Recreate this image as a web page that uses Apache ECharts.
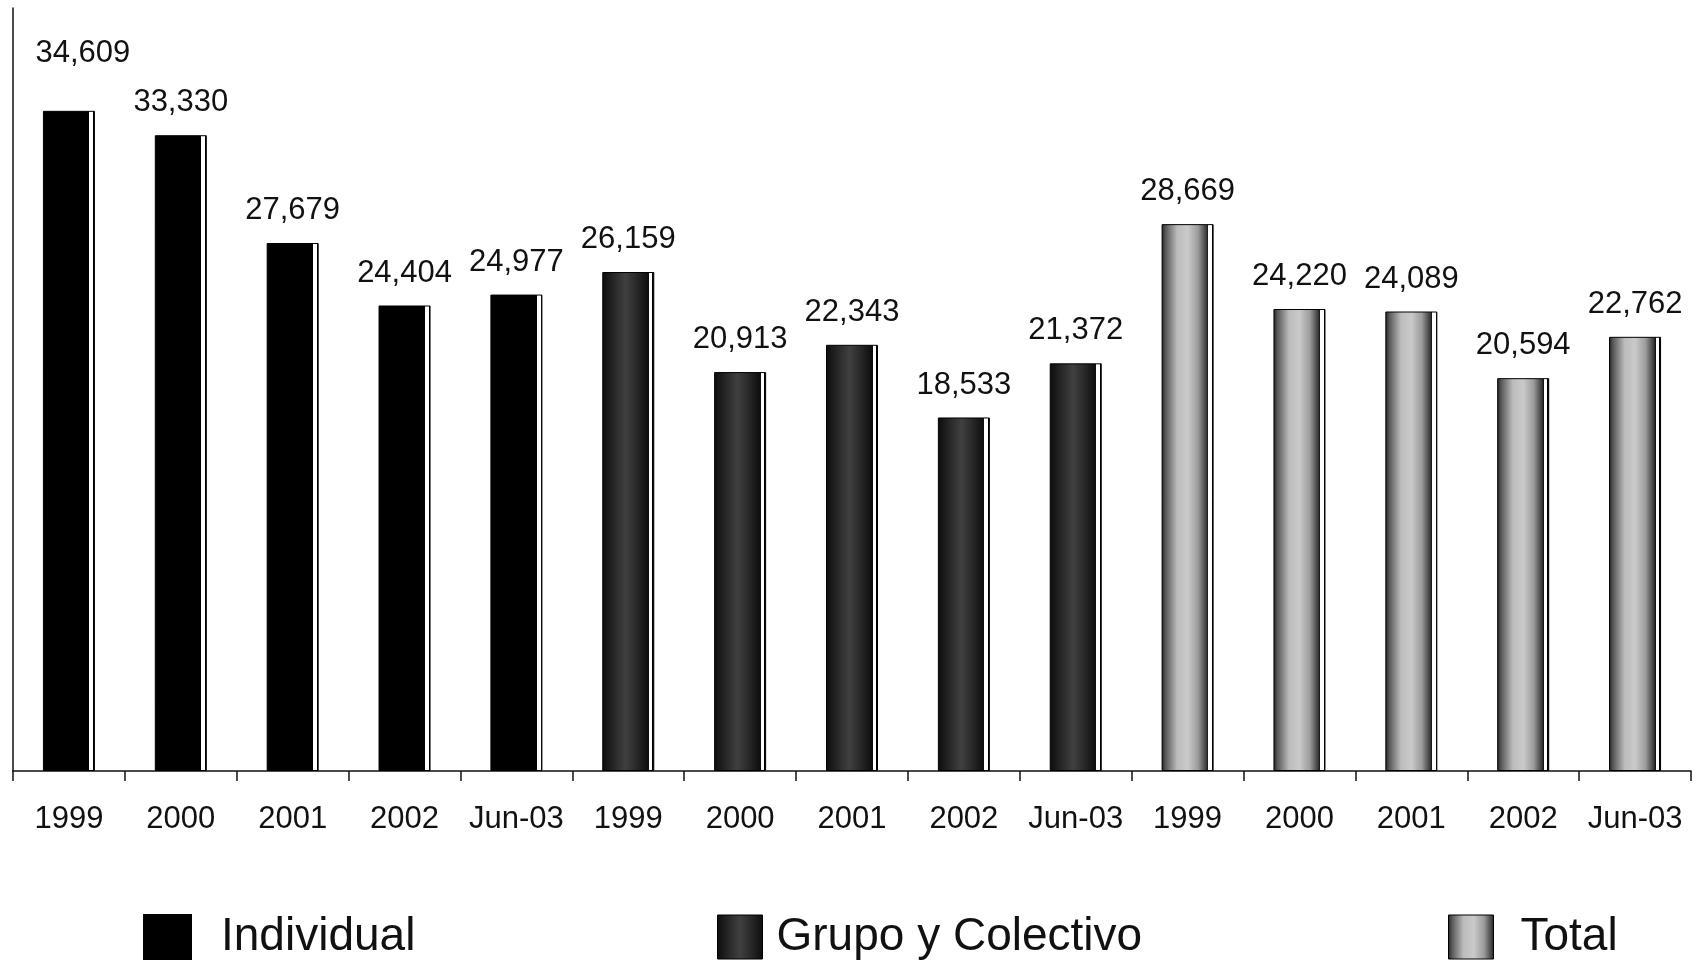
<!DOCTYPE html>
<html>
<head>
<meta charset="utf-8">
<title>Individual / Grupo y Colectivo / Total</title>
<script src="https://cdn.jsdelivr.net/npm/echarts@6/dist/echarts.min.js"></script>
<style>
  html, body { margin: 0; padding: 0; background: #fff; }
  #main { width: 1705px; height: 963px; }
</style>
</head>
<body>
<div id="main"></div>
<script type="text/javascript">
  // datos
  var periods = ['1999', '2000', '2001', '2002', 'Jun-03'];
  var categories = periods.concat(periods, periods);
  var individual = [34609, 33330, 27679, 24404, 24977];
  var grupo      = [26159, 20913, 22343, 18533, 21372];
  var total      = [28669, 24220, 24089, 20594, 22762];

  var font = '"Liberation Sans", Arial, sans-serif';

  // pone los 5 valores de un grupo en su bloque de categorias
  function block(values, pos) {
    var out = [];
    for (var i = 0; i < categories.length; i++) out.push('-');
    values.forEach(function (v, i) { out[pos * 5 + i] = v; });
    return out;
  }

  function grad(stops) {
    return new echarts.graphic.LinearGradient(0, 0, 1, 0, stops);
  }
  // cara frontal + canto blanco a la derecha
  function withEdge(stops) {
    return grad(stops.concat([
      { offset: 0.895, color: '#000' },
      { offset: 0.895, color: '#fff' },
      { offset: 0.965, color: '#fff' },
      { offset: 0.965, color: '#000' },
      { offset: 1, color: '#000' }
    ]));
  }
  function iconFill(stops) {
    return grad(stops.map(function (s) { return { offset: s.offset / 0.895, color: s.color }; }));
  }

  var blackFace = [{ offset: 0, color: '#000' }, { offset: 0.895, color: '#000' }];
  var grupoFace = [
    { offset: 0, color: '#0c0c0c' },
    { offset: 0.25, color: '#2a2a2a' },
    { offset: 0.45, color: '#404040' },
    { offset: 0.65, color: '#2a2a2a' },
    { offset: 0.895, color: '#0c0c0c' }
  ];
  var totalFace = [
    { offset: 0, color: '#222' },
    { offset: 0.08, color: '#5a5a5a' },
    { offset: 0.3, color: '#bcbcbc' },
    { offset: 0.5, color: '#cacaca' },
    { offset: 0.7, color: '#9c9c9c' },
    { offset: 0.86, color: '#3a3a3a' },
    { offset: 0.895, color: '#111' }
  ];

  var labelStyle = {
    show: true,
    position: 'top',
    distance: 17,
    fontFamily: font,
    fontSize: 31,
    color: '#111',
    formatter: function (p) { return p.value.toLocaleString('en-US'); }
  };

  var indData = block(individual, 0).map(function (v, i) {
    // la primera etiqueta esta desplazada en el original
    return i === 0 ? { value: v, label: { distance: 42, offset: [14, 0] } } : v;
  });

  var legendText = { fontFamily: font, fontSize: 46, color: '#111' };

  var myChart = echarts.init(document.getElementById('main'));

  var option = {
    animation: false,
    backgroundColor: '#fff',
    grid: { left: 13, right: 14, top: 8, bottom: 192, containLabel: false },
    xAxis: {
      type: 'category',
      data: categories,
      axisLine: { lineStyle: { color: '#111', width: 1.5 } },
      axisTick: { show: true, length: 10, lineStyle: { color: '#111', width: 1.5 } },
      axisLabel: {
        interval: 0,
        margin: 33,
        fontFamily: font,
        fontSize: 31,
        color: '#111'
      }
    },
    yAxis: {
      type: 'value',
      min: 0,
      max: 40000,
      axisLine: { show: true, lineStyle: { color: '#111', width: 1.5 } },
      axisTick: { show: false },
      axisLabel: { show: false },
      splitLine: { show: false }
    },
    legend: [
      {
        left: 143, top: 914, padding: 0, icon: 'rect',
        itemWidth: 47, itemHeight: 44,
        textStyle: Object.assign({ padding: [0, 0, 0, 25] }, legendText),
        data: [{ name: 'Individual', itemStyle: { color: '#000' } }]
      },
      {
        left: 717, top: 914, padding: 0, icon: 'rect',
        itemWidth: 45, itemHeight: 44,
        textStyle: Object.assign({ padding: [0, 0, 0, 9] }, legendText),
        data: [{ name: 'Grupo y Colectivo', itemStyle: { color: iconFill(grupoFace), borderColor: '#000', borderWidth: 1 } }]
      },
      {
        left: 1448, top: 914, padding: 0, icon: 'rect',
        itemWidth: 45, itemHeight: 44,
        textStyle: Object.assign({ padding: [0, 0, 0, 22] }, legendText),
        data: [{ name: 'Total', itemStyle: { color: iconFill(totalFace), borderColor: '#000', borderWidth: 1 } }]
      }
    ],
    series: [
      {
        name: 'Individual',
        type: 'bar',
        barWidth: 52,
        barGap: '-100%',
        data: indData,
        itemStyle: { color: withEdge(blackFace), borderColor: '#000', borderWidth: 1 },
        label: labelStyle
      },
      {
        name: 'Grupo y Colectivo',
        type: 'bar',
        barWidth: 52,
        barGap: '-100%',
        data: block(grupo, 1),
        itemStyle: { color: withEdge(grupoFace), borderColor: '#000', borderWidth: 1 },
        label: labelStyle
      },
      {
        name: 'Total',
        type: 'bar',
        barWidth: 52,
        barGap: '-100%',
        data: block(total, 2),
        itemStyle: { color: withEdge(totalFace), borderColor: '#000', borderWidth: 1 },
        label: labelStyle
      }
    ]
  };

  myChart.setOption(option);
</script>
</body>
</html>
